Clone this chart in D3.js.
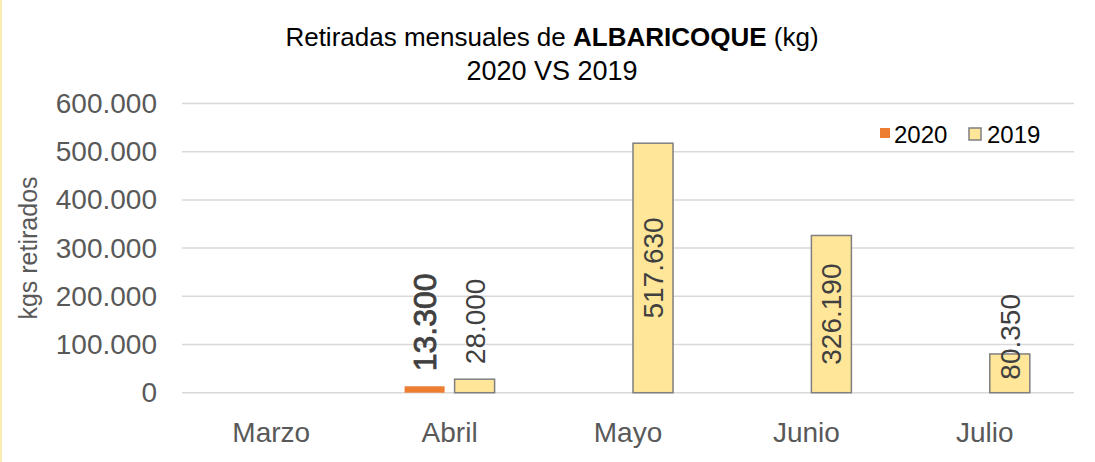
<!DOCTYPE html>
<html>
<head>
<meta charset="utf-8">
<script src="https://cdn.jsdelivr.net/npm/d3@7"></script>
<style>
  body { margin: 0; background: #fff; }
  svg { display: block; }
  text { font-family: "Liberation Sans", Arial, sans-serif; }
</style>
</head>
<body>
<div id="chart"></div>
<script>
// data
var months = ["Marzo", "Abril", "Mayo", "Junio", "Julio"];
var seriesNames = ["2020", "2019"];
var values2020 = [null, 13300, null, null, null];
var values2019 = [null, 28000, 517630, 326190, 80350];
var yTicks = [0, 100000, 200000, 300000, 400000, 500000, 600000];

var svgWidth = 1095, svgHeight = 462;
var margin = { top: 103.5, bottom: 69.3, left: 182, right: 21 };
var width = svgWidth - margin.left - margin.right;
var height = svgHeight - margin.top - margin.bottom;

var colors = { "2020": "#ED7D31", "2019": "#FFE699" };
var strokes = { "2020": "none", "2019": "#7F7F7F" };

var fmt = function(v) { return d3.format(",")(v).replace(/,/g, "."); };

var svg = d3.select("#chart").append("svg")
  .attr("width", svgWidth)
  .attr("height", svgHeight);

// pale left edge
svg.append("rect").attr("x", 0).attr("y", 0).attr("width", 2).attr("height", svgHeight)
  .attr("fill", "#FBEBB5");

// title
var title = svg.append("text")
  .attr("x", 552)
  .attr("y", 46)
  .attr("text-anchor", "middle")
  .attr("font-size", "26px")
  .attr("fill", "#000");
title.append("tspan").text("Retiradas mensuales de ");
title.append("tspan").attr("font-weight", "bold").text("ALBARICOQUE");
title.append("tspan").text(" (kg)");
svg.append("text")
  .attr("x", 552)
  .attr("y", 80)
  .attr("text-anchor", "middle")
  .attr("font-size", "27px")
  .attr("fill", "#000")
  .text("2020 VS 2019");

var chartGroup = svg.append("g")
  .attr("transform", `translate(${margin.left}, ${margin.top})`);

var x0 = d3.scaleBand().domain(months).range([0, width]).padding(0);
var x1 = d3.scaleBand().domain(seriesNames).range([-45, 45]).paddingInner(0.2);
var y = d3.scaleLinear().domain([0, 600000]).range([height, 0]);

// gridlines
chartGroup.selectAll(".grid")
  .data(yTicks)
  .enter()
  .append("line")
  .attr("x1", 0)
  .attr("x2", width)
  .attr("y1", d => y(d))
  .attr("y2", d => y(d))
  .attr("stroke", "#D9D9D9")
  .attr("stroke-width", 1.5);

// y axis
var yAxis = d3.axisLeft(y).tickValues(yTicks).tickFormat(fmt).tickSize(0).tickPadding(25);
var yAxisG = chartGroup.append("g").call(yAxis);
yAxisG.select(".domain").remove();
yAxisG.selectAll("text")
  .attr("font-size", "28px")
  .attr("font-family", "Liberation Sans, Arial, sans-serif")
  .attr("fill", "#595959");

// x axis
var xAxis = d3.axisBottom(x0).tickSize(0).tickPadding(29);
var xAxisG = chartGroup.append("g").attr("transform", `translate(0, ${height})`).call(xAxis);
xAxisG.select(".domain").remove();
xAxisG.selectAll("text")
  .attr("font-size", "28px")
  .attr("font-family", "Liberation Sans, Arial, sans-serif")
  .attr("fill", "#595959");

// y axis title
svg.append("text")
  .attr("transform", "rotate(-90)")
  .attr("x", -248)
  .attr("y", 37)
  .attr("text-anchor", "middle")
  .attr("font-size", "25px")
  .attr("fill", "#595959")
  .text("kgs retirados");

// bars
var rows = [];
months.forEach(function(m, i) {
  rows.push({ month: m, series: "2020", value: values2020[i] });
  rows.push({ month: m, series: "2019", value: values2019[i] });
});
var barData = rows.filter(d => d.value != null);

chartGroup.selectAll("rect.bar")
  .data(barData)
  .enter()
  .append("rect")
  .attr("class", "bar")
  .attr("x", d => x0(d.month) + x0.bandwidth() / 2 + x1(d.series))
  .attr("y", d => y(d.value))
  .attr("width", x1.bandwidth())
  .attr("height", d => height - y(d.value))
  .attr("fill", d => colors[d.series])
  .attr("stroke", d => strokes[d.series])
  .attr("stroke-width", 1.5);

// data labels
var labels = chartGroup.selectAll("text.lbl")
  .data(barData)
  .enter()
  .append("text")
  .attr("class", "lbl")
  .attr("font-size", d => d.series === "2020" ? "32px" : "28px")
  .attr("fill", "#404040")
  .attr("stroke", d => d.series === "2020" ? "#404040" : "none")
  .attr("stroke-width", 0.8)
  .attr("text-anchor", "middle")
  .attr("dy", "0.36em")
  .text(d => fmt(d.value));

labels.each(function(d) {
  var len = this.getComputedTextLength();
  var cx = x0(d.month) + x0.bandwidth() / 2 + x1(d.series) + x1.bandwidth() / 2;
  var top = y(d.value);
  var cy;
  if (d.value < 50000) {
    cy = top - 15 - len / 2;
  } else {
    cy = Math.min((top + height) / 2, height - 13 - len / 2);
  }
  d3.select(this).attr("transform", `translate(${cx}, ${cy}) rotate(-90)`);
});

// legend
var legend = svg.append("g").attr("transform", "translate(880, 143)");
var legendX = { "2020": 0, "2019": 88 };
seriesNames.forEach(function(s) {
  var g = legend.append("g").attr("transform", `translate(${legendX[s]}, 0)`);
  g.append("rect")
    .attr("x", s === "2020" ? 0 : 1)
    .attr("y", -15)
    .attr("width", s === "2020" ? 10 : 12)
    .attr("height", s === "2020" ? 10 : 12)
    .attr("fill", colors[s])
    .attr("stroke", strokes[s])
    .attr("stroke-width", 1.5);
  g.append("text")
    .attr("x", s === "2020" ? 14 : 19)
    .attr("y", 0)
    .attr("font-size", "24px")
    .attr("fill", "#000")
    .text(s);
});
</script>
</body>
</html>
